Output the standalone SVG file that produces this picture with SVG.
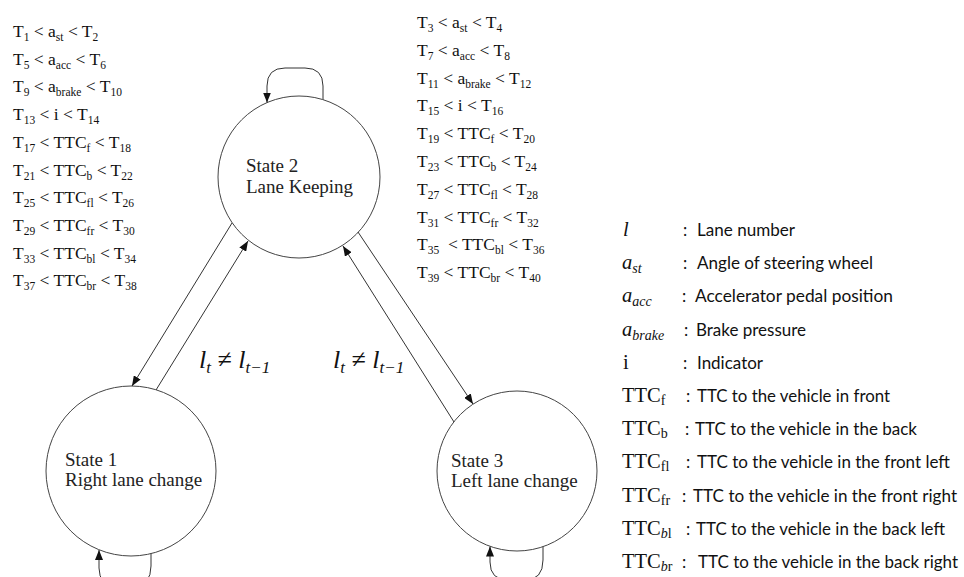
<svg xmlns="http://www.w3.org/2000/svg" width="964" height="577" viewBox="0 0 964 577">
  <style>
    .cond { font-family: "Liberation Serif", "Times New Roman", serif; font-size: 17.5px; fill: #111; }
    .s { font-size: 11.5px; }
    .state { fill: none; stroke: #444; stroke-width: 1; }
    .label { font-family: "Liberation Serif", "Times New Roman", serif; font-size: 19px; fill: #222; }
    .edge { fill: none; stroke: #333; stroke-width: 1; }
    .math { font-family: "Liberation Serif", "Times New Roman", serif; font-style: italic; font-size: 26px; fill: #111; }
    .ms { font-size: 17px; }
    .sym { font-family: "Liberation Serif", "Times New Roman", serif; font-size: 20.5px; fill: #111; }
    .symi { font-style: italic; }
    .ss { font-size: 14px; }
    .desc { font-family: Lato, "Noto Sans", sans-serif; font-size: 17px; fill: #111; }
  </style>
  <defs>
    <marker id="arrow" viewBox="0 0 10 8" refX="10" refY="4" markerWidth="10" markerHeight="8" markerUnits="userSpaceOnUse" orient="auto">
      <path d="M0,0 L10,4 L0,8 Z" fill="#111"/>
    </marker>
  </defs>

  <!-- Conditions for staying in lane keeping (left column) -->
  <g id="cond-left" class="cond">
    <text x="13" y="37">T<tspan class="s" dy="4">1</tspan><tspan dy="-4"> &lt; a</tspan><tspan class="s" dy="4">st</tspan><tspan dy="-4"> &lt; T</tspan><tspan class="s" dy="4">2</tspan></text>
    <text x="13" y="64.7">T<tspan class="s" dy="4">5</tspan><tspan dy="-4"> &lt; a</tspan><tspan class="s" dy="4">acc</tspan><tspan dy="-4"> &lt; T</tspan><tspan class="s" dy="4">6</tspan></text>
    <text x="13" y="92.4">T<tspan class="s" dy="4">9</tspan><tspan dy="-4"> &lt; a</tspan><tspan class="s" dy="4">brake</tspan><tspan dy="-4"> &lt; T</tspan><tspan class="s" dy="4">10</tspan></text>
    <text x="13" y="120.1">T<tspan class="s" dy="4">13</tspan><tspan dy="-4"> &lt; i &lt; T</tspan><tspan class="s" dy="4">14</tspan></text>
    <text x="13" y="147.8">T<tspan class="s" dy="4">17</tspan><tspan dy="-4"> &lt; TTC</tspan><tspan class="s" dy="4">f</tspan><tspan dy="-4"> &lt; T</tspan><tspan class="s" dy="4">18</tspan></text>
    <text x="13" y="175.5">T<tspan class="s" dy="4">21</tspan><tspan dy="-4"> &lt; TTC</tspan><tspan class="s" dy="4">b</tspan><tspan dy="-4"> &lt; T</tspan><tspan class="s" dy="4">22</tspan></text>
    <text x="13" y="203.2">T<tspan class="s" dy="4">25</tspan><tspan dy="-4"> &lt; TTC</tspan><tspan class="s" dy="4">fl</tspan><tspan dy="-4"> &lt; T</tspan><tspan class="s" dy="4">26</tspan></text>
    <text x="13" y="230.9">T<tspan class="s" dy="4">29</tspan><tspan dy="-4"> &lt; TTC</tspan><tspan class="s" dy="4">fr</tspan><tspan dy="-4"> &lt; T</tspan><tspan class="s" dy="4">30</tspan></text>
    <text x="13" y="258.6">T<tspan class="s" dy="4">33</tspan><tspan dy="-4"> &lt; TTC</tspan><tspan class="s" dy="4">bl</tspan><tspan dy="-4"> &lt; T</tspan><tspan class="s" dy="4">34</tspan></text>
    <text x="13" y="286.3">T<tspan class="s" dy="4">37</tspan><tspan dy="-4"> &lt; TTC</tspan><tspan class="s" dy="4">br</tspan><tspan dy="-4"> &lt; T</tspan><tspan class="s" dy="4">38</tspan></text>
  </g>

  <!-- Conditions (right column) -->
  <g id="cond-right" class="cond">
    <text x="417" y="28">T<tspan class="s" dy="4">3</tspan><tspan dy="-4"> &lt; a</tspan><tspan class="s" dy="4">st</tspan><tspan dy="-4"> &lt; T</tspan><tspan class="s" dy="4">4</tspan></text>
    <text x="417" y="55.8">T<tspan class="s" dy="4">7</tspan><tspan dy="-4"> &lt; a</tspan><tspan class="s" dy="4">acc</tspan><tspan dy="-4"> &lt; T</tspan><tspan class="s" dy="4">8</tspan></text>
    <text x="417" y="83.6">T<tspan class="s" dy="4">11</tspan><tspan dy="-4"> &lt; a</tspan><tspan class="s" dy="4">brake</tspan><tspan dy="-4"> &lt; T</tspan><tspan class="s" dy="4">12</tspan></text>
    <text x="417" y="111.4">T<tspan class="s" dy="4">15</tspan><tspan dy="-4"> &lt; i &lt; T</tspan><tspan class="s" dy="4">16</tspan></text>
    <text x="417" y="139.2">T<tspan class="s" dy="4">19</tspan><tspan dy="-4"> &lt; TTC</tspan><tspan class="s" dy="4">f</tspan><tspan dy="-4"> &lt; T</tspan><tspan class="s" dy="4">20</tspan></text>
    <text x="417" y="167">T<tspan class="s" dy="4">23</tspan><tspan dy="-4"> &lt; TTC</tspan><tspan class="s" dy="4">b</tspan><tspan dy="-4"> &lt; T</tspan><tspan class="s" dy="4">24</tspan></text>
    <text x="417" y="194.8">T<tspan class="s" dy="4">27</tspan><tspan dy="-4"> &lt; TTC</tspan><tspan class="s" dy="4">fl</tspan><tspan dy="-4"> &lt; T</tspan><tspan class="s" dy="4">28</tspan></text>
    <text x="417" y="222.6">T<tspan class="s" dy="4">31</tspan><tspan dy="-4"> &lt; TTC</tspan><tspan class="s" dy="4">fr</tspan><tspan dy="-4"> &lt; T</tspan><tspan class="s" dy="4">32</tspan></text>
    <text x="417" y="250.4">T<tspan class="s" dy="4">35</tspan><tspan dy="-4" xml:space="preserve">  &lt; TTC</tspan><tspan class="s" dy="4">bl</tspan><tspan dy="-4"> &lt; T</tspan><tspan class="s" dy="4">36</tspan></text>
    <text x="417" y="278.2">T<tspan class="s" dy="4">39</tspan><tspan dy="-4"> &lt; TTC</tspan><tspan class="s" dy="4">br</tspan><tspan dy="-4"> &lt; T</tspan><tspan class="s" dy="4">40</tspan></text>
  </g>

  <!-- States -->
  <g id="state2">
    <circle class="state" cx="299" cy="177" r="81"/>
    <text class="label" x="246" y="172">State 2</text>
    <text class="label" x="246" y="193">Lane Keeping</text>
  </g>
  <g id="state1">
    <circle class="state" cx="131" cy="471" r="85"/>
    <text class="label" x="65" y="465.5">State 1</text>
    <text class="label" x="65" y="485.5">Right lane change</text>
  </g>
  <g id="state3">
    <circle class="state" cx="517" cy="471" r="80"/>
    <text class="label" x="451" y="467">State 3</text>
    <text class="label" x="451" y="487">Left lane change</text>
  </g>

  <!-- Transitions -->
  <g id="connectors">
    <path class="edge" d="M323,99.6 L323,86 Q323,68 305,68 L285,68 Q267,68 267,86 L267,102.5" marker-end="url(#arrow)"/>
    <path class="edge" d="M151,553.6 L151,566 Q151,586 133,586 L117,586 Q99,586 99,568 L99,550" marker-end="url(#arrow)"/>
    <path class="edge" d="M543,546.7 L543,560 Q543,580 525,580 L508,580 Q490,580 490,562 L490,546.5" marker-end="url(#arrow)"/>
    <line class="edge" x1="232" y1="223" x2="132" y2="386" marker-end="url(#arrow)"/>
    <line class="edge" x1="156" y1="390" x2="248" y2="241" marker-end="url(#arrow)"/>
    <line class="edge" x1="358" y1="232" x2="473" y2="404" marker-end="url(#arrow)"/>
    <line class="edge" x1="454" y1="422" x2="343" y2="246" marker-end="url(#arrow)"/>
  </g>

  <!-- Transition conditions -->
  <g id="trans-labels" class="math">
    <text x="199" y="368">l<tspan class="ms" dy="5">t</tspan><tspan dy="-5"> ≠ l</tspan><tspan class="ms" dy="5">t−1</tspan></text>
    <text x="333" y="368">l<tspan class="ms" dy="5">t</tspan><tspan dy="-5"> ≠ l</tspan><tspan class="ms" dy="5">t−1</tspan></text>
  </g>

  <!-- Legend -->
  <g id="legend">
    <g class="sym">
      <text class="symi" x="623" y="236">l</text>
      <text class="symi" x="622" y="269.2">a<tspan class="ss" dy="4">st</tspan></text>
      <text class="symi" x="622" y="302.4">a<tspan class="ss" dy="4">acc</tspan></text>
      <text class="symi" x="622" y="335.6">a<tspan class="ss" dy="4">brake</tspan></text>
      <text x="623" y="368.8">i</text>
      <text x="622" y="402">TTC<tspan class="ss" dy="3">f</tspan></text>
      <text x="622" y="435.2">TTC<tspan class="ss" dy="3">b</tspan></text>
      <text x="622" y="468.4">TTC<tspan class="ss" dy="3">fl</tspan></text>
      <text x="622" y="501.6">TTC<tspan class="ss" dy="3">fr</tspan></text>
      <text x="622" y="534.8">TTC<tspan class="ss symi" dy="3">b</tspan><tspan class="ss">l</tspan></text>
      <text x="622" y="568">TTC<tspan class="ss symi" dy="3">b</tspan><tspan class="ss">r</tspan></text>
    </g>
    <g class="desc">
      <text x="683" y="236">:</text>
      <text x="683" y="269.2">:</text>
      <text x="682" y="302.4">:</text>
      <text x="684" y="335.6">:</text>
      <text x="683" y="368.8">:</text>
      <text x="686" y="402">:</text>
      <text x="685" y="435.2">:</text>
      <text x="686" y="468.4">:</text>
      <text x="682" y="501.6">:</text>
      <text x="686" y="534.8">:</text>
      <text x="682" y="568">:</text>
      <text x="697" y="236" textLength="98" lengthAdjust="spacingAndGlyphs">Lane number</text>
      <text x="697" y="269.2" textLength="176" lengthAdjust="spacingAndGlyphs">Angle of steering wheel</text>
      <text x="695" y="302.4" textLength="198" lengthAdjust="spacingAndGlyphs">Accelerator pedal position</text>
      <text x="696" y="335.6" textLength="110" lengthAdjust="spacingAndGlyphs">Brake pressure</text>
      <text x="697" y="368.8" textLength="66" lengthAdjust="spacingAndGlyphs">Indicator</text>
      <text x="697" y="402" textLength="193" lengthAdjust="spacingAndGlyphs">TTC to the vehicle in front</text>
      <text x="695" y="435.2" textLength="222" lengthAdjust="spacingAndGlyphs">TTC to the vehicle in the back</text>
      <text x="697" y="468.4" textLength="253" lengthAdjust="spacingAndGlyphs">TTC to the vehicle in the front left</text>
      <text x="693" y="501.6" textLength="264" lengthAdjust="spacingAndGlyphs">TTC to the vehicle in the front right</text>
      <text x="696" y="534.8" textLength="249" lengthAdjust="spacingAndGlyphs">TTC to the vehicle in the back left</text>
      <text x="698" y="568" textLength="260" lengthAdjust="spacingAndGlyphs">TTC to the vehicle in the back right</text>
    </g>
  </g>
</svg>
